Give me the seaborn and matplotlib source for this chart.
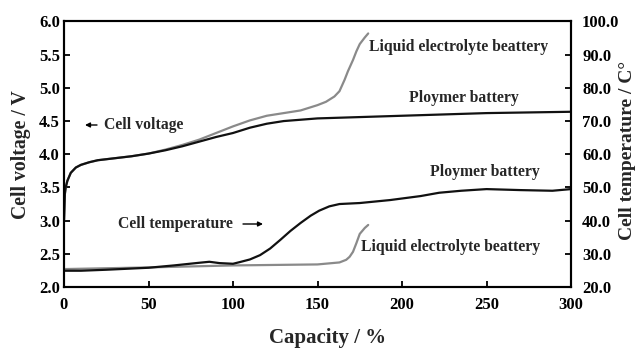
import matplotlib
matplotlib.use("Agg")
import matplotlib.pyplot as plt
import seaborn as sns

# Cell voltage during overcharge (capacity %, volts)
cap_v_poly = [0, 0.5, 1, 2, 4, 7, 10, 15, 20, 30, 40, 50, 60, 70, 80, 90, 100,
              110, 120, 130, 140, 150, 175, 200, 225, 250, 275, 300]
volt_poly = [3.0, 3.4, 3.5, 3.6, 3.72, 3.8, 3.84, 3.88, 3.91, 3.94, 3.97, 4.01,
             4.06, 4.12, 4.19, 4.26, 4.32, 4.40, 4.46, 4.50, 4.52, 4.54, 4.56,
             4.58, 4.60, 4.62, 4.63, 4.64]

cap_v_liq = [0, 0.5, 1, 2, 4, 7, 10, 15, 20, 30, 40, 50, 60, 70, 80, 90, 100,
             110, 120, 130, 140, 150, 155, 160, 163, 166, 168, 171, 173, 175,
             178, 180]
volt_liq = [3.0, 3.4, 3.5, 3.6, 3.72, 3.8, 3.84, 3.88, 3.91, 3.94, 3.97, 4.01,
            4.07, 4.14, 4.22, 4.32, 4.42, 4.51, 4.58, 4.62, 4.66, 4.74, 4.79,
            4.87, 4.95, 5.12, 5.25, 5.42, 5.55, 5.66, 5.76, 5.82]

# Cell temperature (capacity %, deg C)
cap_t_poly = [0, 10, 25, 50, 65, 80, 86, 92, 100, 104, 110, 116, 122, 128, 134,
              140, 146, 151, 157, 163, 175, 193, 211, 222, 235, 250, 270, 289,
              300]
temp_poly = [24.9, 24.9, 25.2, 25.8, 26.5, 27.3, 27.6, 27.2, 27.0, 27.5, 28.3,
             29.6, 31.6, 34.2, 36.9, 39.3, 41.5, 43.0, 44.3, 45.0, 45.3, 46.2,
             47.4, 48.4, 49.0, 49.5, 49.2, 49.0, 49.5]

cap_t_liq = [0, 50, 100, 150, 163, 167, 169, 171, 173, 175, 178, 180]
temp_liq = [25.4, 25.9, 26.5, 26.8, 27.4, 28.2, 29.1, 30.6, 33.2, 36.0, 37.8,
            38.7]

x_ticks = [0, 50, 100, 150, 200, 250, 300]
v_ticks = [2.0, 2.5, 3.0, 3.5, 4.0, 4.5, 5.0, 5.5, 6.0]
t_ticks = [20, 30, 40, 50, 60, 70, 80, 90, 100]

sns.set_style("ticks")
plt.rcParams["font.family"] = ["Liberation Serif", "DejaVu Serif"]
plt.rcParams["font.weight"] = "bold"

BLACK = "#111111"
GREY = "#8a8a8a"
W, H = 639, 348

fig = plt.figure(figsize=(W / 100, H / 100), dpi=100)
ax = fig.add_axes([64 / W, 1 - 287 / H, 507 / W, 265.5 / H])
ax2 = ax.twinx()

sns.lineplot(x=cap_v_liq, y=volt_liq, ax=ax, color=GREY, lw=1.6)
sns.lineplot(x=cap_v_poly, y=volt_poly, ax=ax, color=BLACK, lw=1.6)
sns.lineplot(x=cap_t_liq, y=temp_liq, ax=ax2, color=GREY, lw=1.6)
sns.lineplot(x=cap_t_poly, y=temp_poly, ax=ax2, color=BLACK, lw=1.6)

ax.set_xlim(0, 300)
ax.set_ylim(2.0, 6.0)
ax2.set_ylim(20, 100)
ax.set_xticks(x_ticks)
ax.set_yticks(v_ticks)
ax2.set_yticks(t_ticks)
ax.set_yticklabels([f"{v:.1f}" for v in v_ticks])
ax2.set_yticklabels([f"{t:.1f}" for t in t_ticks])

for a in (ax, ax2):
    for s in a.spines.values():
        s.set_linewidth(1.5)
        s.set_color("black")
ax.tick_params(axis="both", direction="in", length=4, width=1.3,
               labelsize=12, colors="black")
ax.tick_params(axis="y", pad=3)
ax.tick_params(axis="x", pad=7)
ax2.tick_params(axis="y", direction="in", length=4, width=1.3,
                labelsize=12, pad=8, colors="black")

# axis titles placed in figure pixels
fig.text(328 / W, 1 - 338 / H, "Capacity / %", fontsize=15,
         fontweight="bold", ha="center", va="center")
fig.text(21 / W, 1 - 155 / H, "Cell voltage / V", fontsize=14.2,
         fontweight="bold", ha="center", va="center", rotation=90)
fig.text(628 / W, 1 - 150 / H, "Cell temperature / C\u00b0", fontsize=14,
         fontweight="bold", ha="center", va="center", rotation=90)

fs = 11.3


def label(x, y, s):
    fig.text(x / W, 1 - y / H, s, fontsize=fs, fontweight="bold",
             ha="left", va="center")


def arrow(x0, x1, y):
    ax.annotate("", xy=(x1, H - y), xytext=(x0, H - y),
                xycoords="figure pixels", textcoords="figure pixels",
                arrowprops=dict(arrowstyle="-|>", color="black", lw=1.0,
                                mutation_scale=7, shrinkA=0, shrinkB=0))


label(369, 47, "Liquid electrolyte beattery")
label(409, 98, "Ploymer battery")
label(104, 125, "Cell voltage")
arrow(97, 85, 125)
label(430, 172, "Ploymer battery")
label(118, 224, "Cell temperature")
arrow(243, 263, 224)
label(361, 247, "Liquid electrolyte beattery")

fig.savefig("out.png", dpi=100)
